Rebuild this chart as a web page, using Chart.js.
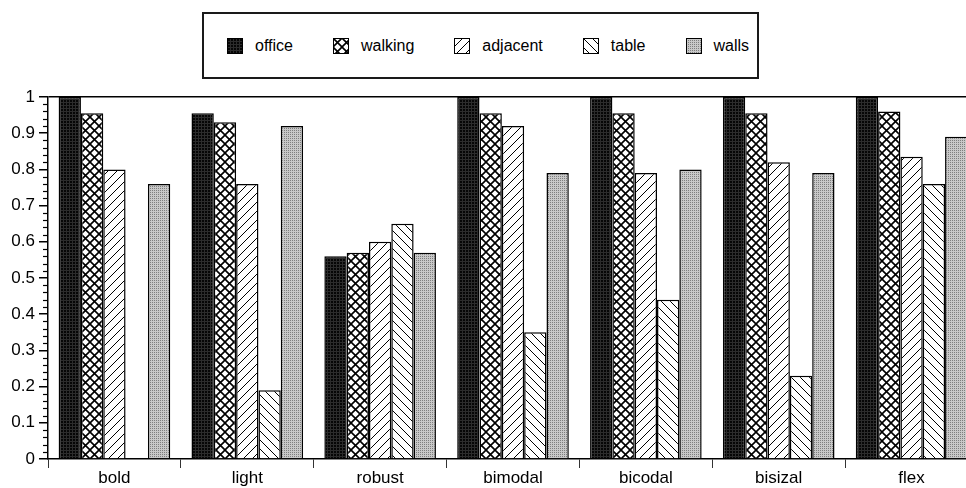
<!DOCTYPE html>
<html>
<head>
<meta charset="utf-8">
<script src="https://cdn.jsdelivr.net/npm/chart.js@4.4.1/dist/chart.umd.min.js"></script>
<style>
  body { margin: 0; background: #fff; }
  #wrap { position: relative; width: 966px; height: 488px; overflow: hidden; background: #fff; }
  #chart { position: absolute; left: 0; top: 0; }
  #legend {
    position: absolute; left: 202px; top: 12px; width: 557px; height: 67px;
    box-sizing: border-box; border: 2px solid #1a1a1a; background: #fff;
    display: flex; align-items: center; padding-left: 23px; gap: 40px;
    font: 16px "Liberation Sans", Arial, Helvetica, sans-serif; color: #000;
  }
  .item { display: flex; align-items: center; }
  .item canvas { margin-right: 12px; }
</style>
</head>
<body>
<div id="wrap">
  <canvas id="chart" width="980" height="488"></canvas>
  <div id="legend"></div>
</div>
<script>
const categories = ['bold', 'light', 'robust', 'bimodal', 'bicodal', 'bisizal', 'flex'];
const seriesNames = ['office', 'walking', 'adjacent', 'table', 'walls'];

const office   = [1, 0.955, 0.56, 1, 1, 1, 1];
const walking  = [0.955, 0.93, 0.57, 0.955, 0.955, 0.955, 0.96];
const adjacent = [0.80, 0.76, 0.60, 0.92, 0.79, 0.82, 0.835];
const table    = [0, 0.19, 0.65, 0.35, 0.44, 0.23, 0.76];
const walls    = [0.76, 0.92, 0.57, 0.79, 0.80, 0.79, 0.89];

const FONT = '"Liberation Sans", Arial, Helvetica, sans-serif';

// little tiles used as fills for the bars and legend swatches
function tile(size, draw) {
  const c = document.createElement('canvas');
  c.width = size; c.height = size;
  const g = c.getContext('2d');
  draw(g, size);
  return c;
}

const tiles = {
  office: tile(3, (g, s) => {
    g.fillStyle = '#060606'; g.fillRect(0, 0, s, s);
    g.fillStyle = '#2c2c2c'; g.fillRect(0, 0, s, 1); g.fillRect(0, 0, 1, s);
  }),
  walking: tile(9, (g, s) => {
    g.fillStyle = '#fff'; g.fillRect(0, 0, s, s);
    g.strokeStyle = '#000'; g.lineWidth = 1.6;
    g.beginPath();
    g.moveTo(-1, -1); g.lineTo(s + 1, s + 1);
    g.moveTo(s + 1, -1); g.lineTo(-1, s + 1);
    g.stroke();
  }),
  adjacent: tile(9, (g, s) => {
    g.fillStyle = '#fff'; g.fillRect(0, 0, s, s);
    g.strokeStyle = '#000'; g.lineWidth = 1;
    g.beginPath();
    g.moveTo(-1, s + 1); g.lineTo(s + 1, -1);
    g.moveTo(-2, 2); g.lineTo(2, -2);
    g.moveTo(s - 2, s + 2); g.lineTo(s + 2, s - 2);
    g.stroke();
  }),
  table: tile(9, (g, s) => {
    g.fillStyle = '#fff'; g.fillRect(0, 0, s, s);
    g.strokeStyle = '#000'; g.lineWidth = 1;
    g.beginPath();
    g.moveTo(-1, -1); g.lineTo(s + 1, s + 1);
    g.moveTo(s - 2, -2); g.lineTo(s + 2, 2);
    g.moveTo(-2, s - 2); g.lineTo(2, s + 2);
    g.stroke();
  }),
  walls: tile(2, (g, s) => {
    g.fillStyle = '#c8c8c8'; g.fillRect(0, 0, s, s);
    g.fillStyle = '#7e7e7e'; g.fillRect(0, 0, 1, 1);
  })
};

const ctx = document.getElementById('chart').getContext('2d');
const fills = {};
seriesNames.forEach(n => { fills[n] = ctx.createPattern(tiles[n], 'repeat'); });

const values = { office, walking, adjacent, table, walls };

const isMajor = v => Math.round(v * 50) % 5 === 0;

// short ticks between the labelled ones on the y axis
const minorTicks = {
  id: 'minorTicks',
  afterDraw(chart) {
    const y = chart.scales.y;
    const g = chart.ctx;
    g.save();
    g.strokeStyle = '#000';
    g.lineWidth = 1.2;
    y.ticks.forEach(t => {
      if (isMajor(t.value)) return;
      const py = Math.round(y.getPixelForValue(t.value)) + 0.5;
      g.beginPath();
      g.moveTo(y.right - 5, py);
      g.lineTo(y.right, py);
      g.stroke();
    });
    g.restore();
  }
};

new Chart(ctx, {
  type: 'bar',
  data: {
    labels: categories,
    datasets: seriesNames.map(n => ({
      label: n,
      data: values[n],
      backgroundColor: fills[n],
      borderColor: '#000',
      borderWidth: 1.5,
      categoryPercentage: 0.84,
      barPercentage: 1
    }))
  },
  options: {
    responsive: false,
    animation: false,
    layout: { padding: { top: 97, right: 2, left: 0, bottom: 0 } },
    plugins: {
      legend: { display: false },
      tooltip: { enabled: false }
    },
    scales: {
      x: {
        grid: { offset: true, drawOnChartArea: false, tickLength: 9, color: '#333', lineWidth: 1 },
        border: { color: '#000', width: 1.5 },
        ticks: { color: '#000', font: { family: FONT, size: 17 }, padding: 0, maxRotation: 0 },
        afterFit(s) { s.height = 29; }
      },
      y: {
        min: 0,
        max: 1,
        grid: {
          drawOnChartArea: true,
          tickLength: 9,
          lineWidth: 1.5,
          color: c => (c.tick && Math.abs(c.tick.value - 1) < 1e-9) ? '#000' : 'rgba(0,0,0,0)',
          tickColor: c => (c.tick && isMajor(c.tick.value)) ? '#000' : 'rgba(0,0,0,0)'
        },
        border: { color: '#000', width: 1.5 },
        ticks: {
          stepSize: 0.02,
          autoSkip: false,
          padding: 4,
          color: '#000',
          font: { family: FONT, size: 17 },
          callback: v => isMajor(v) ? String(Math.round(v * 10) / 10) : ''
        },
        afterFit(s) { s.width = 48; }
      }
    }
  },
  plugins: [minorTicks]
});

// legend box above the plot
const legend = document.getElementById('legend');
seriesNames.forEach(n => {
  const item = document.createElement('div');
  item.className = 'item';
  const sw = document.createElement('canvas');
  sw.width = 16; sw.height = 16;
  const g = sw.getContext('2d');
  g.fillStyle = g.createPattern(tiles[n], 'repeat');
  g.fillRect(0, 0, 16, 16);
  g.strokeStyle = '#000'; g.lineWidth = 1;
  g.strokeRect(0.5, 0.5, 15, 15);
  const label = document.createElement('span');
  label.textContent = n;
  item.appendChild(sw);
  item.appendChild(label);
  legend.appendChild(item);
});
</script>
</body>
</html>
